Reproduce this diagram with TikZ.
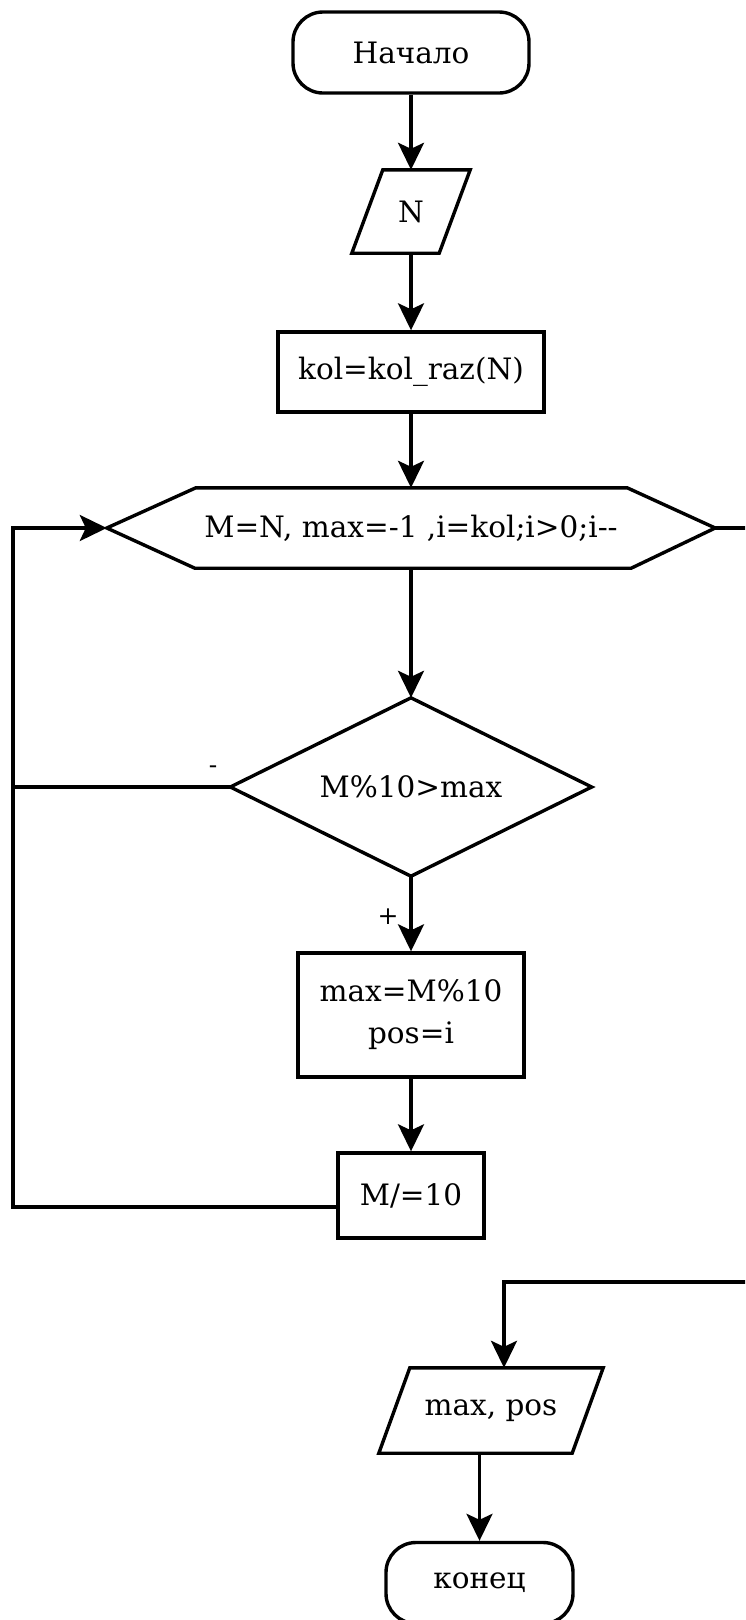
\documentclass[tikz,border=0pt]{standalone}
\usepackage{fontspec}
\setmainfont{DejaVu Serif}
\usetikzlibrary{arrows.meta,calc}
\begin{document}
\begin{tikzpicture}[x=1pt,y=-1pt,
  every node/.style={inner sep=0pt, font=\fontsize{29.5}{42}\selectfont},
  ln/.style={line width=3.4pt},
  arr/.style={ln, -{Stealth[length=27pt,width=26pt,inset=6pt]}},
  boxsty/.style={draw, ln, rectangle},
  termsty/.style={draw, ln, rectangle, rounded corners=30pt},
  plain/.style={rectangle},
  lbl/.style={font=\fontsize{25}{28}\selectfont}
]
\useasboundingbox (0,0) rectangle (745,1620);
\clip (0,0) rectangle (745,1620);
\fill[white] (0,0) rectangle (745,1620);

\node[termsty, minimum width=236pt, minimum height=81pt] (start) at (411,52.5) {Начало};
\node[plain, minimum width=87pt, minimum height=83pt] (in) at (411,211.5) {N};
\draw[ln] ($(in.south west)+(-15.5,0)$) -- ($(in.south east)+(-15.5,0)$) -- ($(in.north east)+(15.5,0)$) -- ($(in.north west)+(15.5,0)$) -- cycle;
\node[boxsty, minimum width=266pt, minimum height=80pt] (kol) at (411,372) {kol=kol\_raz(N)};
\node[plain, minimum width=608pt, minimum height=80pt] (hex) at (411,528) {M=N, max=-1 ,i=kol;i>0;i-{}-};
\draw[ln] (hex.west) -- ($(hex.north west)+(89,0)$) -- ($(hex.north east)+(-88,0)$) -- (hex.east) -- ($(hex.south east)+(-84,0)$) -- ($(hex.south west)+(88,0)$) -- cycle;
\node[plain, minimum width=361pt, minimum height=178pt] (dec) at (411,787) {M\%10>max};
\draw[ln] (dec.north) -- (dec.east) -- (dec.south) -- (dec.west) -- cycle;
\node[boxsty, minimum width=226pt, minimum height=124pt, align=center] (maxb) at (411,1015) {max=M\%10\\pos=i};
\node[boxsty, minimum width=146pt, minimum height=85pt] (mdiv) at (411,1195.5) {M/=10};
\node[plain, minimum width=193pt, minimum height=85pt] (out) at (491,1410.5) {max, pos};
\draw[ln] ($(out.south west)+(-15.5,0)$) -- ($(out.south east)+(-15.5,0)$) -- ($(out.north east)+(15.5,0)$) -- ($(out.north west)+(15.5,0)$) -- cycle;
\node[termsty, minimum width=187pt, minimum height=81pt] (end) at (479.5,1583) {конец};

\node[lbl] (minus) at (213,770) {-};
\node[lbl] (plus) at (388,917) {+};

\coordinate (lp) at (13,0);
\coordinate (rx) at (780,0);
\coordinate (ret) at (504,1282);

\draw[arr] (start) -- (in);
\draw[arr] (in) -- (kol);
\draw[arr] (kol) -- (hex);
\draw[arr] (hex) -- (dec);
\draw[arr] (dec) -- (maxb);
\draw[arr] (maxb) -- (mdiv);
\draw[ln] (dec.west) -- (dec.west -| lp);
\coordinate (lb) at ($(mdiv.west)+(0,11.5)$);
\draw[arr] (lb) -- (lb -| lp) -- (lp |- hex.west) -- (hex.west);
\draw[arr] (hex.east) -- (hex.east -| rx) -- (rx |- ret) -- (ret) -- (ret |- out.north);
\draw[arr] (out.south -| end.north) -- (end.north);
\end{tikzpicture}
\end{document}
